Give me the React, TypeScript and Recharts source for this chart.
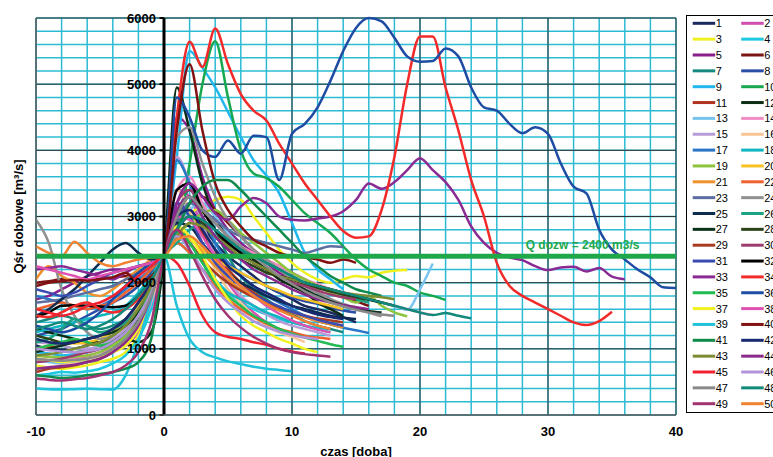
import {
  LineChart,
  Line,
  XAxis,
  YAxis,
  CartesianGrid,
  ReferenceLine,
  ReferenceDot,
  Legend,
} from 'recharts'

// time axis: days relative to the moment the flow passes 2400 m3/s
const days = [
  -10, -9, -8, -7, -6, -5, -4, -3, -2, -1, 0, 1, 2, 3, 4, 5, 6, 7, 8, 9, 10, 11, 12, 13, 14, 15, 16, 17,
  18, 19, 20, 21, 22, 23, 24, 25, 26, 27, 28, 29, 30, 31, 32, 33, 34, 35, 36, 37, 38, 39, 40,
]

const xTicks = [-10, -8, -6, -4, -2, 0, 2, 4, 6, 8, 10, 12, 14, 16, 18, 20, 22, 24, 26, 28, 30, 32, 34, 36, 38, 40]
const yTicks = [
  0, 200, 400, 600, 800, 1000, 1200, 1400, 1600, 1800, 2000, 2200, 2400, 2600, 2800, 3000, 3200, 3400, 3600,
  3800, 4000, 4200, 4400, 4600, 4800, 5000, 5200, 5400, 5600, 5800, 6000,
]
const majorX = [-10, 0, 10, 20, 30, 40]
const majorY = [0, 1000, 2000, 3000, 4000, 5000, 6000]
const qAllowed = 2400

// each series starts at day -10, one value per day
const s01 = [1050, 1000, 980, 1000, 1050, 1100, 1150, 1250, 1450, 1800, 2400, 2850, 3000, 2850, 2600, 2400, 2250, 2100, 1950, 1850, 1750, 1650, 1600, 1550, 1480, 1400]
const s02 = [900, 880, 860, 850, 870, 900, 950, 1050, 1250, 1650, 2400, 3400, 3300, 2800, 2300, 2000, 1750, 1550, 1400, 1300, 1220, 1180, 1150]
const s03 = [750, 720, 700, 720, 750, 800, 850, 950, 1200, 1650, 2400, 2900, 3050, 3150, 3250, 3300, 3250, 3000, 2750, 2500, 2300, 2150, 2050, 2000, 2050, 2100, 2080, 2150, 2180, 2190]
const s04 = [600, 620, 650, 640, 660, 700, 780, 900, 1150, 1600, 2400, 2800, 2600, 2300, 2050, 1850, 1700, 1600, 1520, 1450, 1400, 1350, 1320, 1300]
const s05 = [1750, 1800, 1900, 2000, 2100, 2150, 2200, 2200, 2250, 2300, 2400, 4500, 4300, 3600, 3100, 2800, 2600, 2450, 2300, 2150, 2050, 1950, 1850, 1750, 1650]
const s06 = [2000, 2020, 2050, 2040, 2050, 2060, 2080, 2100, 2150, 2250, 2400, 2900, 3200, 3300, 3100, 2900, 2700, 2500, 2350, 2250, 2150, 2050, 1950, 1850, 1780, 1720, 1650]
const s07 = [1400, 1450, 1500, 1450, 1350, 1300, 1350, 1450, 1650, 1950, 2400, 3000, 3400, 3200, 2800, 2400, 2100, 1900, 1750, 1620, 1520, 1420, 1350, 1300, 1250]
const s08 = [1200, 1250, 1300, 1400, 1500, 1600, 1700, 1800, 1950, 2150, 2400, 3000, 3100, 2800, 2500, 2300, 2150, 2050, 1950, 1850, 1780, 1720, 1680, 1620, 1580, 1550]
const s09 = [950, 930, 900, 920, 950, 1000, 1100, 1250, 1500, 1900, 2400, 3900, 5500, 5250, 4950, 4580, 4200, 3850, 3620, 3350, 2900, 2450, 2200, 2050, 1900]
const s10 = [1150, 1100, 1050, 1000, 980, 1000, 1050, 1150, 1400, 1800, 2400, 2700, 3800, 5000, 5650, 4800, 4000, 3650, 3580, 3450, 3250, 3050, 2900, 2750, 2550, 2350, 2200, 2100, 2000, 1950, 1850, 1800, 1740]
const s11 = [1000, 1020, 1050, 1100, 1080, 1050, 1100, 1200, 1400, 1750, 2400, 2800, 3000, 2750, 2450, 2200, 2000, 1850, 1720, 1620, 1550, 1480, 1420, 1380, 1350]
const s12 = [1300, 1250, 1200, 1150, 1100, 1100, 1120, 1150, 1100, 1250, 2400, 4950, 4300, 3500, 3000, 2700, 2500, 2350, 2200, 2050, 1950, 1850, 1700, 1600, 1500]
const s13 = [850, 800, 780, 800, 850, 900, 1000, 1150, 1400, 1800, 2400, 2800, 3100, 3200, 3000, 2750, 2550, 2400, 2300, 2200, 2100, 2000, 1950, 1900, 1850, 1800, 1750, 1700, 1650, 1590, 1900, 2290]
const s14 = [800, 820, 850, 870, 900, 950, 1000, 1100, 1300, 1700, 2400, 3400, 3600, 3200, 2900, 2700, 2550, 2450, 2350, 2250, 2150, 2050, 1980, 1900, 1850, 1800, 1750, 1700, 1650, 1600, 1550, 1510]
const s15 = [1100, 1080, 1050, 1000, 1000, 1050, 1150, 1300, 1550, 1900, 2400, 3900, 3500, 2900, 2400, 2050, 1800, 1650, 1520, 1420, 1350, 1300, 1250, 1200]
const s16 = [700, 720, 750, 780, 800, 850, 950, 1100, 1400, 1850, 2400, 3400, 3100, 2600, 2200, 1900, 1700, 1500, 1350, 1250, 1180, 1100]
const s17 = [1800, 1750, 1700, 1650, 1600, 1650, 1750, 1900, 2050, 2200, 2400, 3850, 3500, 3000, 2600, 2300, 2100, 1950, 1800, 1700, 1600, 1500, 1420, 1370, 1320, 1280, 1240]
const s18 = [1250, 1300, 1350, 1400, 1450, 1500, 1550, 1650, 1850, 2100, 2400, 2600, 2450, 2200, 2000, 1850, 1750, 1650, 1550, 1480, 1400, 1350, 1300, 1250]
const s19 = [900, 880, 870, 880, 900, 950, 1050, 1200, 1500, 1900, 2400, 2700, 2900, 3050, 3100, 2950, 2750, 2600, 2450, 2300, 2150, 2050, 1950, 1850, 1780, 1700, 1800, 1650, 1550, 1490]
const s20 = [1000, 1050, 1100, 1080, 1100, 1150, 1250, 1400, 1650, 2000, 2400, 2700, 2650, 2500, 2350, 2250, 2150, 2050, 1950, 1880, 1800, 1750, 1700, 1650, 1600]
const s21 = [2050, 2250, 2100, 2000, 1850, 1800, 1900, 2050, 2200, 2350, 2400, 2800, 2700, 2450, 2250, 2050, 1900, 1800, 1700, 1620, 1550, 1480, 1420, 1370, 1320]
const s22 = [1600, 1650, 1700, 1650, 1600, 1650, 1700, 1850, 2000, 2200, 2400, 2600, 2450, 2200, 1950, 1750, 1600, 1480, 1380, 1300, 1250, 1200, 1170, 1150]
const s23 = [1700, 1720, 1750, 1800, 1850, 1900, 1950, 2050, 2150, 2250, 2400, 2900, 3200, 3100, 2950, 2800, 2700, 2650, 2600, 2550, 2500, 2450, 2500, 2550, 2540]
const s24 = [2950, 2600, 1900, 1500, 1250, 1150, 1200, 1400, 1700, 2050, 2400, 4200, 4350, 3800, 3300, 2950, 2700, 2500, 2350, 2200, 2050, 1950, 1850, 1750, 1680, 1620, 1550, 1490]
const s25 = [1500, 1600, 1750, 1900, 2100, 2300, 2500, 2600, 2450, 2350, 2400, 2900, 2850, 2600, 2350, 2150, 2000, 1900, 1800, 1720, 1650, 1600, 1550, 1500, 1470, 1450]
const s26 = [1100, 1150, 1300, 1450, 1350, 1250, 1300, 1400, 1600, 1950, 2400, 2600, 2800, 2900, 2800, 2650, 2500, 2400, 2300, 2200, 2100, 2000, 1950, 1880, 1820, 1750, 1700]
const s27 = [950, 1000, 1050, 1100, 1150, 1200, 1250, 1350, 1550, 1900, 2400, 3000, 3300, 3100, 2800, 2550, 2400, 2300, 2200, 2100, 2000, 1900, 1800, 1720, 1660, 1600, 1570, 1550]
const s28 = [1200, 1150, 1100, 1120, 1150, 1200, 1300, 1450, 1700, 2000, 2400, 2800, 3000, 2900, 2700, 2500, 2350, 2250, 2150, 2100, 2050, 1980, 1920, 1870, 1820, 1780, 1740, 1700, 1650]
const s29 = [650, 700, 720, 750, 800, 850, 950, 1100, 1350, 1800, 2400, 2700, 2600, 2350, 2150, 2000, 1880, 1780, 1700, 1620, 1560, 1500, 1460, 1430, 1400]
const s30 = [800, 820, 850, 900, 950, 1000, 1100, 1250, 1500, 1900, 2400, 3200, 3400, 3100, 2800, 2600, 2450, 2300, 2200, 2100, 2000, 1950, 1880, 1820, 1780, 1750]
const s31 = [1900, 1850, 1800, 1850, 1950, 2050, 2150, 2200, 2250, 2300, 2400, 3200, 3000, 2600, 2300, 2100, 1950, 1820, 1720, 1640, 1560, 1500, 1440, 1390, 1350]
const s32 = [1480, 1550, 1650, 1660, 1650, 1640, 1630, 1650, 1800, 2050, 2400, 3400, 3500, 3100, 2800, 2600, 2450, 2300, 2200, 2100, 2050, 2000, 1950, 1900, 1850, 1800, 1750, 1700]
const s33 = [
  2200, 2220, 2250, 2200, 2150, 2100, 2050, 2150, 2250, 2300, 2400, 3200, 3500, 3300, 3050, 2950, 3150, 3280, 3200, 3000,
  2950, 2940, 2970, 3000, 3080, 3250, 3500, 3420, 3520, 3700, 3880, 3700, 3520, 3250, 2850, 2600, 2450, 2380, 2340,
  2250, 2190, 2230, 2240, 2170, 2220, 2090, 2050,
]
const s34 = [
  1500, 1480, 1550, 1650, 1700, 1600, 1550, 1600, 1750, 2000, 2400, 4500, 5640, 5260, 5840, 5300, 4850, 4600, 4450,
  4100, 3800, 3500, 3250, 3000, 2780, 2680, 2700, 3100, 3900, 5000, 5720, 5720, 4950, 4300, 3550, 3000, 2300, 1950,
  1800, 1700, 1600, 1500, 1400, 1360, 1420, 1560,
]
const s35 = [1000, 1050, 1100, 1150, 1100, 1050, 1100, 1250, 1500, 1900, 2400, 2800, 2600, 2300, 2000, 1800, 1650, 1500, 1400, 1300, 1230, 1170, 1120, 1070, 1030]
const s36 = [
  1350, 1300, 1250, 1300, 1400, 1550, 1750, 1950, 2150, 2300, 2400, 4800, 4500, 4000, 3900, 4150, 3950, 4220, 4200,
  3550, 4250, 4400, 4650, 5050, 5500, 5850, 6000, 5950, 5700, 5420, 5340, 5350, 5540, 5420, 4950, 4650, 4600, 4400,
  4260, 4350, 4250, 3800, 3450, 3350, 2800, 2500, 2350, 2200, 2080, 1930, 1920,
]
const s37 = [850, 830, 800, 820, 850, 900, 950, 1050, 1300, 1750, 2400, 2850, 2700, 2400, 2050, 1750, 1500, 1350, 1250, 1150, 1080, 1000, 950]
const s38 = [2250, 2200, 2150, 2100, 2050, 2100, 2150, 2200, 2250, 2300, 2400, 3000, 2950, 2700, 2400, 2150, 1950, 1800, 1650, 1530, 1430, 1350, 1290, 1250]
const s39 = [400, 390, 385, 390, 395, 390, 385, 600, 1100, 1750, 2400, 1650, 1150, 950, 870, 810, 770, 730, 700, 680, 660]
const s40 = [1950, 2000, 2020, 2040, 2030, 2050, 2080, 2150, 2000, 2100, 2400, 4300, 5300, 4300, 3500, 3100, 2850, 2650, 2550, 2450, 2400, 2380, 2350, 2300, 2350, 2300]
const s41 = [600, 580, 560, 570, 600, 620, 650, 700, 800, 1150, 2400, 2800, 3200, 3450, 3550, 3550, 3400, 3200, 3000, 2800, 2600, 2400, 2250, 2100, 2000, 1900, 1850, 1800]
const s42 = [1150, 1100, 1080, 1100, 1150, 1200, 1300, 1450, 1700, 2000, 2400, 3000, 3100, 2800, 2500, 2250, 2100, 1950, 1850, 1750, 1650, 1580, 1520, 1480, 1450]
const s43 = [900, 920, 950, 1000, 1050, 1100, 1200, 1350, 1600, 1950, 2400, 2700, 2900, 2850, 2700, 2550, 2400, 2300, 2200, 2100, 2050, 2000, 1950, 1900, 1850, 1820, 1800, 1780, 1750]
const s44 = [700, 720, 740, 760, 800, 850, 950, 1100, 1350, 1800, 2400, 3100, 3300, 3000, 2700, 2500, 2350, 2200, 2100, 2000, 1900, 1820, 1750, 1700, 1660, 1630, 1600]
const s45 = [1600, 1550, 1500, 1550, 1650, 1700, 1800, 1950, 2100, 2250, 2400, 2300, 1950, 1500, 1250, 1180, 1150, 1100, 1060, 1000, 960, 930]
const s46 = [1000, 980, 960, 950, 970, 1000, 1100, 1250, 1500, 1850, 2400, 2700, 2500, 2200, 1900, 1700, 1550, 1420, 1330, 1260, 1210, 1170, 1150]
const s47 = [850, 830, 820, 830, 850, 900, 1000, 1150, 1400, 1800, 2400, 3000, 3300, 3100, 2900, 2700, 2550, 2400, 2250, 2100, 1980, 1870, 1780, 1700, 1640, 1590, 1550, 1520, 1500]
const s48 = [1300, 1350, 1400, 1350, 1300, 1350, 1450, 1600, 1800, 2050, 2400, 2800, 3000, 2950, 2800, 2650, 2500, 2400, 2300, 2200, 2100, 2000, 1950, 1900, 1850, 1800, 1750, 1700, 1650, 1600, 1550, 1510, 1540, 1500, 1460]
const s49 = [550, 530, 520, 540, 560, 600, 650, 750, 950, 1400, 2400, 2800, 2500, 2100, 1750, 1500, 1320, 1180, 1080, 1000, 950, 920, 900, 880]
const s50 = [2550, 2450, 2400, 2620, 2450, 2300, 2250, 2300, 2350, 2380, 2400, 2650, 2700, 2550, 2350, 2150, 1950, 1800, 1680, 1580, 1500, 1420, 1350, 1300]

const series = [
  s01, s02, s03, s04, s05, s06, s07, s08, s09, s10, s11, s12, s13, s14, s15, s16, s17, s18, s19, s20, s21, s22, s23, s24, s25,
  s26, s27, s28, s29, s30, s31, s32, s33, s34, s35, s36, s37, s38, s39, s40, s41, s42, s43, s44, s45, s46, s47, s48, s49, s50,
]

const colors = [
  '#1b2a5e', '#d04fb0', '#f0f020', '#1ec8e0', '#8a1e8c', '#7a1414', '#168a7e', '#2a4ea6', '#20b6ee', '#18a850',
  '#b03420', '#0c2c14', '#78c4ee', '#f28cc4', '#b89cd8', '#f8c494', '#2a76c6', '#12b6c2', '#8cc43e', '#f6c224',
  '#f0922c', '#ee6230', '#5c6ea2', '#909090', '#0e2c50', '#1aa282', '#0c321c', '#2c4218', '#a83c20', '#9c3c6c',
  '#3a4cb2', '#000000', '#8a2a92', '#f22a2a', '#22ba52', '#1e4ca2', '#f2f222', '#e052b2', '#22c2da', '#821212',
  '#108a4a', '#1a2a72', '#7c8c32', '#8a2a8a', '#f02232', '#b292d8', '#8a8a8a', '#10887a', '#a23272', '#f08232',
]

const chartData = days.map((day, i) => {
  const row: Record<string, number> = { day }
  series.forEach((s, k) => {
    if (i < s.length) row[`s${k + 1}`] = s[i]
  })
  return row
})

const axisFont = "'Liberation Sans Narrow', 'Arial Narrow', 'Liberation Sans', Arial, sans-serif"
const bold = { fontFamily: axisFont, fontWeight: 700, fill: '#000' }

function LegendBox() {
  return (
    <svg width={100} height={399} style={{ display: 'block' }}>
      <rect x={0.5} y={0.5} width={120} height={397} fill="#fff" stroke="#000" />
      {series.map((_, i) => {
        const x = 6.7 + (i % 2) * 48.5
        const y = 8.3 + Math.floor(i / 2) * 15.85
        return (
          <g key={i}>
            <line x1={x} x2={x + 22.5} y1={y} y2={y} stroke={colors[i]} strokeWidth={3} />
            <text x={x + 23} y={y + 4} fontSize={11} fontFamily="'Liberation Sans', Arial, sans-serif" fill="#000">
              {i + 1}
            </text>
          </g>
        )
      })}
    </svg>
  )
}

export default function App() {
  return (
    <div style={{ width: 773, height: 457, overflow: 'hidden', background: '#fff', position: 'relative' }}>
      <style>{'body{margin:0;overflow:hidden;background:#fff}'}</style>
      <LineChart width={773} height={457} data={chartData} margin={{ top: 18, right: 97, bottom: 0, left: 0 }}>
        <CartesianGrid stroke="#2bbcd4" strokeWidth={1.5} horizontalValues={yTicks} verticalValues={xTicks} />
        <CartesianGrid stroke="#333" horizontalValues={majorY} verticalValues={majorX} />
        <XAxis
          type="number"
          dataKey="day"
          domain={[-10, 40]}
          ticks={xTicks}
          interval={0}
          tickFormatter={(v: number) => (v % 10 === 0 ? String(v) : '')}
          tickLine={false}
          axisLine={{ stroke: '#666' }}
          height={42}
          tickMargin={6}
          tick={{ ...bold, fontSize: 13 }}
          label={{ value: 'czas [doba]', position: 'insideBottom', offset: 1, ...bold, fontSize: 13 }}
        />
        <YAxis
          type="number"
          domain={[0, 6000]}
          ticks={yTicks}
          interval={0}
          width={36}
          tickFormatter={() => ''}
          tickLine={false}
          axisLine={{ stroke: '#666' }}
          label={{ value: 'Qśr dobowe [m³/s]', angle: -90, position: 'center', ...bold, fontSize: 13 }}
        />
        {series.map((_, k) => (
          <Line
            key={k}
            type="monotone"
            dataKey={`s${k + 1}`}
            stroke={colors[k]}
            strokeWidth={2.5}
            dot={false}
            activeDot={false}
            isAnimationActive={false}
          />
        ))}
        <ReferenceLine x={0} stroke="#000" strokeWidth={3} />
        {majorY.map((v) => (
          <ReferenceLine
            key={`t${v}`}
            segment={[
              { x: -0.35, y: v },
              { x: 0, y: v },
            ]}
            stroke="#000"
            strokeWidth={2}
          />
        ))}
        {majorY.map((v) => (
          <ReferenceDot
            key={`l${v}`}
            x={0}
            y={v}
            r={0}
            stroke="none"
            fill="none"
            label={{ value: String(v), position: 'left', offset: 8, ...bold, fontSize: 13 }}
          />
        ))}
        <ReferenceLine y={qAllowed} stroke="#1fa84a" strokeWidth={5} />
        <ReferenceDot
          x={32.7}
          y={qAllowed}
          r={0}
          stroke="none"
          fill="none"
          label={{ value: 'Q dozw = 2400 m3/s', position: 'top', offset: 7, ...bold, fill: '#1fa84a', fontSize: 12 }}
        />
        <Legend
          layout="vertical"
          align="center"
          verticalAlign="middle"
          wrapperStyle={{ left: 686, top: 15, width: 100, height: 399 }}
          content={() => <LegendBox />}
        />
      </LineChart>
    </div>
  )
}
